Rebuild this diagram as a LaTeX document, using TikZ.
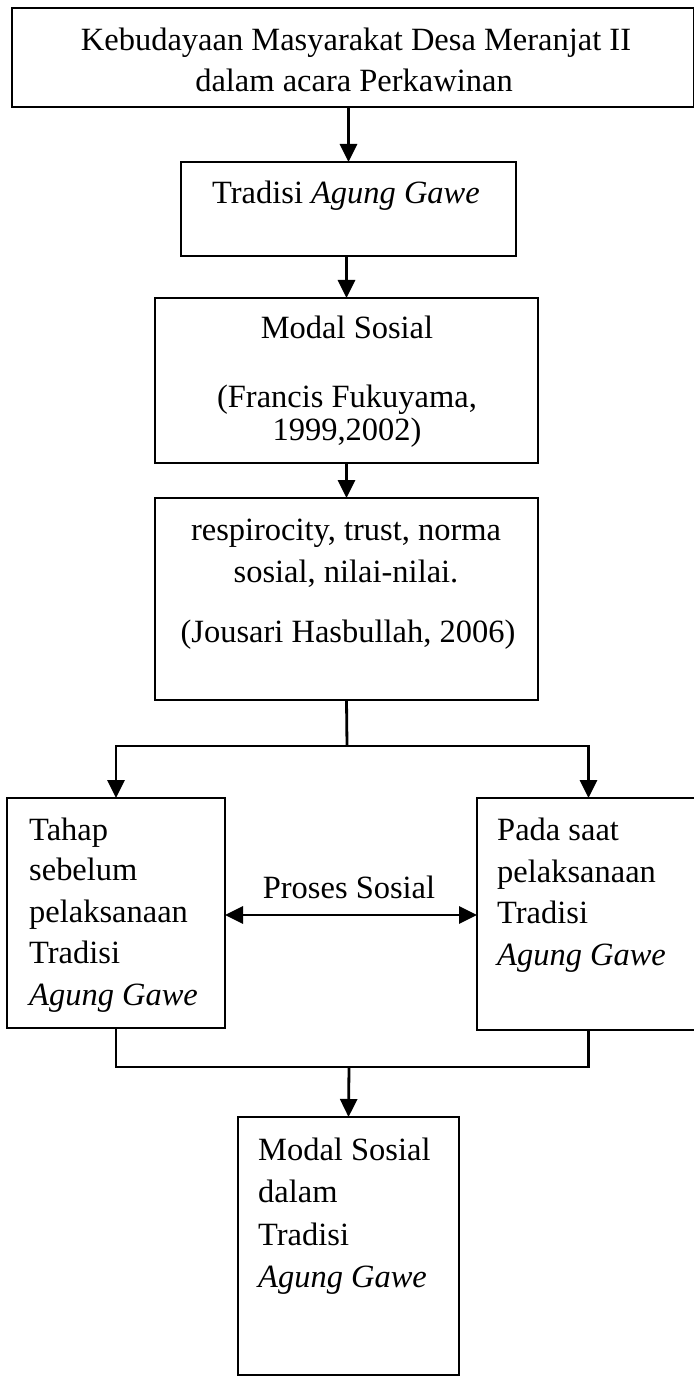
\documentclass[tikz,border=0pt]{standalone}
\usepackage{fontspec}
\setmainfont{Liberation Serif}
\usetikzlibrary{arrows.meta,calc}
\begin{document}
\begin{tikzpicture}[x=1bp,y=-1bp,
  box/.style={draw, line width=2.8bp, rectangle, inner sep=0pt, outer sep=0pt},
  txt/.style={inner sep=0pt, font=\fontsize{32.6}{38}\selectfont},
  ctxt/.style={txt, anchor=base},
  ltxt/.style={txt, anchor=base west},
  link/.style={line width=2.8bp},
  arr/.style={link, -{Triangle[width=17bp,length=18bp]}},
  arrtwo/.style={link, {Triangle[width=17bp,length=18bp]}-{Triangle[width=17bp,length=18bp]}}]
\useasboundingbox (0,0) rectangle (693,1377);
% boxes
\node[box, minimum width=682bp, minimum height=99bp] (b1) at (353,57.5) {};
\node[box, minimum width=335bp, minimum height=94bp] (b2) at (348.5,209) {};
\node[box, minimum width=383bp, minimum height=165bp] (b3) at (346.5,380.5) {};
\node[box, minimum width=383bp, minimum height=202bp] (b4) at (346.5,599) {};
\node[box, minimum width=218bp, minimum height=230bp] (b5) at (116,913) {};
\node[box, minimum width=223bp, minimum height=232bp] (b6) at (588.5,914) {};
\node[box, minimum width=221bp, minimum height=258bp] (b7) at (348.5,1246) {};
% texts
\node[ctxt] (t1a) at (356,51) {Kebudayaan Masyarakat Desa Meranjat II};
\node[ctxt] (t1b) at (354,92) {dalam acara Perkawinan};
\node[ctxt] (t2) at (346,204) {Tradisi \textit{Agung Gawe}};
\node[ctxt] (t3a) at (347,338) {Modal Sosial};
\node[ctxt] (t3b) at (347,407) {(Francis Fukuyama,};
\node[ctxt] (t3c) at (347,440) {1999,2002)};
\node[ctxt] (t4a) at (346,540) {respirocity, trust, norma};
\node[ctxt] (t4b) at (346,582) {sosial, nilai-nilai.};
\node[ctxt] (t4c) at (348,642) {(Jousari Hasbullah, 2006)};
\node[ltxt] (t5a) at (29,840) {Tahap};
\node[ltxt] (t5b) at (29,880) {sebelum};
\node[ltxt] (t5c) at (29,922) {pelaksanaan};
\node[ltxt] (t5d) at (29,963) {Tradisi};
\node[ltxt] (t5e) at (29,1005) {\textit{Agung Gawe}};
\node[ltxt] (t6a) at (497,840) {Pada saat};
\node[ltxt] (t6b) at (497,882) {pelaksanaan};
\node[ltxt] (t6c) at (497,923) {Tradisi};
\node[ltxt] (t6d) at (497,965) {\textit{Agung Gawe}};
\node[ltxt] (t7a) at (258,1160) {Modal Sosial};
\node[ltxt] (t7b) at (258,1202) {dalam};
\node[ltxt] (t7c) at (258,1245) {Tradisi};
\node[ltxt] (t7d) at (258,1287) {\textit{Agung Gawe}};
\node[ctxt] (lbl) at (349,898) {Proses Sosial};
% connectors
\draw[arr] (b2.north |- b1.south) -- (b2.north);
\draw[arr] (b3.north |- b2.south) -- (b3.north);
\draw[arr] (b4.north |- b3.south) -- (b4.north);
\coordinate (split) at (347,746);
\draw[link] (b4.south) -- (split);
\draw[arr] (split) -| (b5.north);
\draw[arr] (split) -| (b6.north);
\draw[arrtwo] (b5.east |- 0,915) -- (b6.west |- 0,915);
\coordinate (merge) at (349,1067);
\draw[link] (b5.south) |- (merge) -| (b6.south);
\draw[arr] (merge) -- (b7.north);
\end{tikzpicture}
\end{document}
